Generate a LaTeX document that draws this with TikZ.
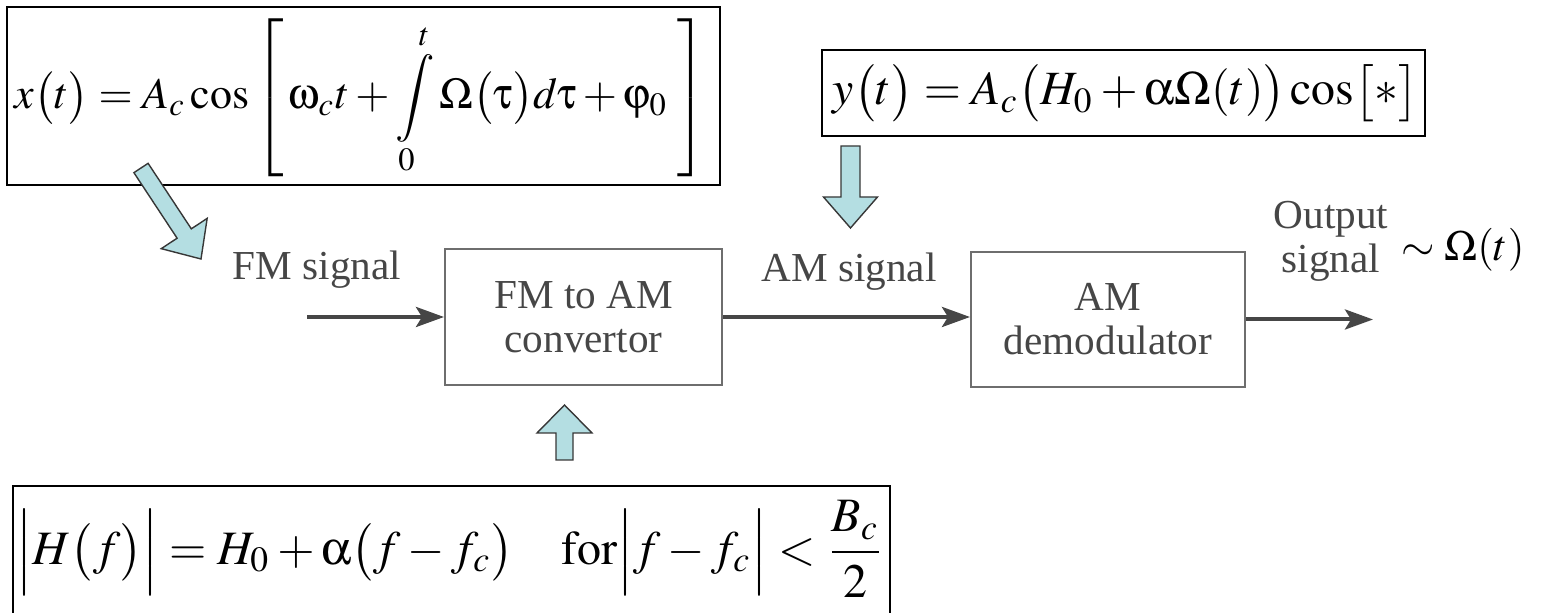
\documentclass[tikz,border=0pt]{standalone}
\usepackage{mathptmx}
\usepackage[Symbol]{upgreek}
\usepackage{fontspec}
\setmainfont{Liberation Serif}
\usetikzlibrary{arrows.meta}
\definecolor{fatfill}{RGB}{180,222,226}
\definecolor{fatline}{RGB}{55,55,55}
\definecolor{blkline}{RGB}{110,110,110}
\definecolor{blktext}{RGB}{70,70,70}
\definecolor{sigline}{RGB}{70,70,70}
\newcommand{\fatarrow}[7]{%
  \begin{scope}[shift={(#1,#2)},rotate=#3]
    \draw[fatst,x=1pt,y=1pt] (0,-#5) -- ({#4-#7},-#5) -- ({#4-#7},-#6) -- (#4,0)
      -- ({#4-#7},#6) -- ({#4-#7},#5) -- (0,#5) -- cycle;
  \end{scope}}
\begin{document}
\begin{tikzpicture}[x=0.5pt,y=-0.5pt,
  fbox/.style={draw=black,line width=1.2pt,inner sep=0pt},
  blk/.style={draw=blkline,line width=1pt,inner sep=0pt,text=blktext,
    font=\fontsize{20.6}{22}\selectfont,align=center},
  lbl/.style={text=blktext,font=\fontsize{20.6}{22}\selectfont,align=center,inner sep=0pt},
  sig/.style={draw=sigline,line width=2pt,-{Stealth[length=14pt,width=10pt,inset=3pt]}},
  fatst/.style={draw=fatline,fill=fatfill,line width=0.7pt,line join=miter}
]
\clip (0,0) rectangle (1543,613);
\useasboundingbox (0,0) rectangle (1543,613);

% formula boxes
\node[fbox,minimum width=356.5pt,minimum height=89pt] (xbox) at (363.5,96) {};
\node[inner sep=0pt] (xform) at (361,98)
  {\resizebox{346pt}{!}{$\displaystyle x\bigl(t\bigr) = A_c\cos\left[\,\upomega_c t+\int\limits_0^t \Omega\bigl(\uptau\bigr)d\uptau+\upvarphi_0\;\right]$}};

\node[fbox,minimum width=301.5pt,minimum height=43pt] (ybox) at (1123.5,93) {};
\node[inner sep=0pt] (yform) at (1125.5,93)
  {\resizebox{292.5pt}{!}{$y\bigl(t\bigr) = A_c\bigl(H_0+\upalpha\Omega(t)\bigr)\cos\bigl[*\bigr]$}};

\node[fbox,minimum width=438.5pt,minimum height=77pt] (hbox) at (451.5,563) {};
\node[inner sep=0pt] (hform) at (451,549)
  {\resizebox{434pt}{!}{$\displaystyle \Bigl|H\bigl(f\bigr)\Bigr| = H_0+\upalpha\bigl(f-f_c\bigr)\quad\mathrm{for}\Bigl|f-f_c\Bigr|<\frac{B_c}{2}$}};

% block diagram
\node[blk,minimum width=138.5pt,minimum height=68pt] (fmam) at (583.5,317) {FM to AM\\convertor};
\node[blk,minimum width=137pt,minimum height=67.5pt] (amdem) at (1108,319.5) {AM\\demodulator};

\coordinate (fmin) at (307,317);
\coordinate (outend) at (1373,320);
\draw[sig] (fmin) -- (fmam.west);
\draw[sig] (fmam.east) -- (fmam.east -| amdem.west);
\draw[sig] (amdem.east) -- (amdem.east -| outend);

\node[lbl] (fmlbl) at (317,270) {FM signal};
\node[lbl] (amlbl) at (849,272) {AM signal};
\node[lbl] (outlbl) at (1331,241) {Output\\signal};
\node[inner sep=0pt] (omega) at (1463,250) {\resizebox{61.5pt}{!}{$\sim\Omega(t)$}};

% fat arrows
\fatarrow{141}{168}{-56.6}{54.5}{4.25}{13.75}{15.25}
\fatarrow{850.5}{146}{-90}{41}{4.75}{13.5}{15.5}
\fatarrow{564.5}{460}{90}{27.5}{4.25}{13.75}{14}
\end{tikzpicture}
\end{document}
